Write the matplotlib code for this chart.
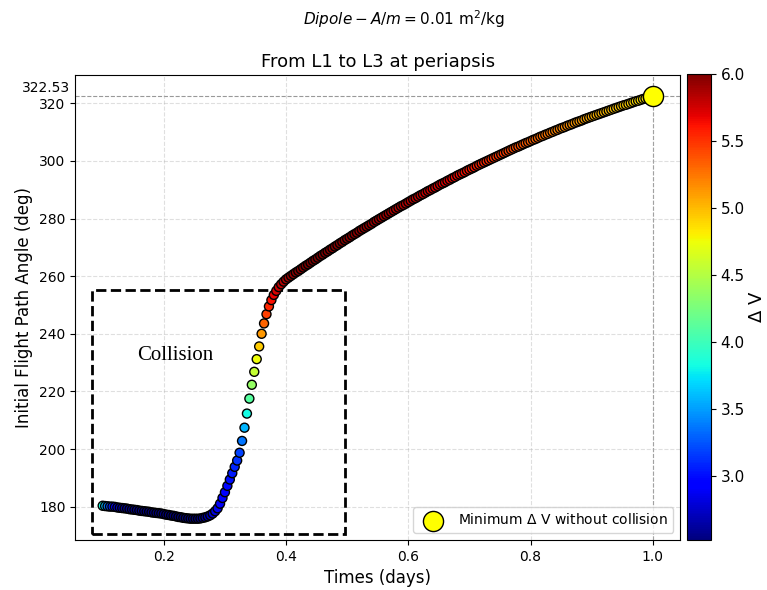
import matplotlib
matplotlib.use('Agg')
import matplotlib.pyplot as plt
from matplotlib.patches import Rectangle

# sample times (days)
times = [
    0.100, 0.104, 0.108, 0.112, 0.116, 0.120, 0.124, 0.128, 0.132, 0.136,
    0.140, 0.144, 0.148, 0.152, 0.156, 0.160, 0.164, 0.168, 0.172, 0.176,
    0.180, 0.184, 0.188, 0.192, 0.196, 0.200, 0.204, 0.208, 0.212, 0.216,
    0.220, 0.224, 0.228, 0.232, 0.236, 0.240, 0.244, 0.248, 0.252, 0.256,
    0.260, 0.264, 0.268, 0.272, 0.276, 0.280, 0.284, 0.288, 0.292, 0.296,
    0.300, 0.304, 0.308, 0.312, 0.316, 0.320, 0.324, 0.328, 0.332, 0.336,
    0.340, 0.344, 0.348, 0.352, 0.356, 0.360, 0.364, 0.368, 0.372, 0.376,
    0.380, 0.384, 0.388, 0.392, 0.396, 0.400, 0.404, 0.408, 0.412, 0.416,
    0.420, 0.424, 0.428, 0.432, 0.436, 0.440, 0.444, 0.448, 0.452, 0.456,
    0.460, 0.464, 0.468, 0.472, 0.476, 0.480, 0.484, 0.488, 0.492, 0.496,
    0.500, 0.504, 0.508, 0.512, 0.516, 0.520, 0.524, 0.528, 0.532, 0.536,
    0.540, 0.544, 0.548, 0.552, 0.556, 0.560, 0.564, 0.568, 0.572, 0.576,
    0.580, 0.584, 0.588, 0.592, 0.596, 0.600, 0.604, 0.608, 0.612, 0.616,
    0.620, 0.624, 0.628, 0.632, 0.636, 0.640, 0.644, 0.648, 0.652, 0.656,
    0.660, 0.664, 0.668, 0.672, 0.676, 0.680, 0.684, 0.688, 0.692, 0.696,
    0.700, 0.704, 0.708, 0.712, 0.716, 0.720, 0.724, 0.728, 0.732, 0.736,
    0.740, 0.744, 0.748, 0.752, 0.756, 0.760, 0.764, 0.768, 0.772, 0.776,
    0.780, 0.784, 0.788, 0.792, 0.796, 0.800, 0.804, 0.808, 0.812, 0.816,
    0.820, 0.824, 0.828, 0.832, 0.836, 0.840, 0.844, 0.848, 0.852, 0.856,
    0.860, 0.864, 0.868, 0.872, 0.876, 0.880, 0.884, 0.888, 0.892, 0.896,
    0.900, 0.904, 0.908, 0.912, 0.916, 0.920, 0.924, 0.928, 0.932, 0.936,
    0.940, 0.944, 0.948, 0.952, 0.956, 0.960, 0.964, 0.968, 0.972, 0.976,
    0.980, 0.984, 0.988, 0.992, 0.996, 1.000,
]

# initial flight path angle (deg)
angle = [
    180.3, 180.2, 180.1, 180.0, 180.0, 179.9, 179.7, 179.6, 179.5, 179.4,
    179.3, 179.1, 179.0, 178.9, 178.8, 178.6, 178.5, 178.4, 178.3, 178.2,
    178.0, 177.9, 177.8, 177.7, 177.6, 177.4, 177.2, 177.1, 176.9, 176.8,
    176.6, 176.4, 176.3, 176.1, 176.0, 175.9, 175.8, 175.8, 175.8, 175.8,
    175.9, 176.1, 176.3, 176.6, 177.0, 177.6, 178.4, 179.4, 181.0, 183.0,
    185.0, 187.2, 189.4, 191.6, 193.8, 196.0, 198.7, 202.8, 207.4, 212.3,
    217.5, 222.3, 226.8, 231.2, 235.6, 240.0, 243.6, 246.8, 249.5, 251.7,
    253.5, 254.9, 256.2, 257.2, 258.1, 258.9, 259.5, 260.1, 260.7, 261.3,
    261.8, 262.4, 263.0, 263.6, 264.1, 264.7, 265.3, 265.8, 266.4, 267.0,
    267.5, 268.1, 268.6, 269.2, 269.7, 270.3, 270.8, 271.4, 271.9, 272.5,
    273.0, 273.5, 274.1, 274.6, 275.1, 275.7, 276.2, 276.7, 277.2, 277.7,
    278.2, 278.8, 279.3, 279.8, 280.3, 280.8, 281.3, 281.8, 282.3, 282.8,
    283.3, 283.8, 284.3, 284.7, 285.2, 285.7, 286.2, 286.7, 287.1, 287.6,
    288.1, 288.5, 289.0, 289.5, 289.9, 290.4, 290.8, 291.3, 291.8, 292.2,
    292.6, 293.1, 293.5, 294.0, 294.4, 294.9, 295.3, 295.7, 296.1, 296.6,
    297.0, 297.4, 297.8, 298.3, 298.7, 299.1, 299.5, 299.9, 300.3, 300.7,
    301.1, 301.5, 301.9, 302.3, 302.7, 303.1, 303.5, 303.9, 304.3, 304.7,
    305.0, 305.4, 305.8, 306.2, 306.5, 306.9, 307.3, 307.6, 308.0, 308.4,
    308.7, 309.1, 309.4, 309.8, 310.1, 310.5, 310.8, 311.2, 311.5, 311.8,
    312.2, 312.5, 312.8, 313.2, 313.5, 313.8, 314.1, 314.5, 314.8, 315.1,
    315.4, 315.7, 316.0, 316.3, 316.6, 316.9, 317.2, 317.5, 317.8, 318.1,
    318.4, 318.7, 319.0, 319.3, 319.5, 319.8, 320.1, 320.4, 320.7, 320.9,
    321.2, 321.5, 321.7, 322.0, 322.2, 322.53,
]

# delta V
delta_v = [
    3.85, 3.60, 3.40, 3.22, 3.08, 2.92, 2.80, 2.72, 2.67, 2.64,
    2.62, 2.61, 2.60, 2.59, 2.58, 2.58, 2.57, 2.57, 2.56, 2.56,
    2.56, 2.55, 2.55, 2.55, 2.54, 2.54, 2.54, 2.53, 2.53, 2.53,
    2.53, 2.53, 2.52, 2.52, 2.52, 2.52, 2.52, 2.52, 2.53, 2.54,
    2.56, 2.59, 2.63, 2.67, 2.71, 2.76, 2.81, 2.86, 2.89, 2.93,
    2.95, 2.98, 3.00, 3.04, 3.08, 3.12, 3.18, 3.35, 3.58, 3.82,
    4.10, 4.36, 4.56, 4.74, 4.93, 5.12, 5.31, 5.45, 5.54, 5.62,
    5.68, 5.73, 5.77, 5.80, 5.83, 5.86, 5.89, 5.91, 5.93, 5.94,
    5.96, 5.97, 5.98, 5.99, 6.00, 6.00, 6.00, 6.00, 6.00, 5.99,
    5.99, 5.98, 5.98, 5.97, 5.97, 5.97, 5.96, 5.96, 5.96, 5.96,
    5.96, 5.96, 5.95, 5.95, 5.94, 5.94, 5.93, 5.93, 5.92, 5.92,
    5.91, 5.91, 5.90, 5.90, 5.89, 5.88, 5.88, 5.87, 5.86, 5.85,
    5.85, 5.84, 5.84, 5.83, 5.82, 5.82, 5.81, 5.80, 5.80, 5.79,
    5.78, 5.77, 5.76, 5.76, 5.75, 5.74, 5.73, 5.72, 5.72, 5.71,
    5.70, 5.69, 5.68, 5.67, 5.66, 5.65, 5.64, 5.63, 5.62, 5.61,
    5.60, 5.59, 5.58, 5.57, 5.56, 5.55, 5.54, 5.53, 5.52, 5.51,
    5.50, 5.49, 5.48, 5.47, 5.46, 5.45, 5.44, 5.42, 5.41, 5.40,
    5.39, 5.38, 5.37, 5.36, 5.34, 5.33, 5.32, 5.31, 5.30, 5.28,
    5.27, 5.26, 5.25, 5.24, 5.22, 5.21, 5.20, 5.19, 5.18, 5.17,
    5.16, 5.15, 5.13, 5.12, 5.11, 5.10, 5.09, 5.08, 5.07, 5.06,
    5.04, 5.03, 5.02, 5.01, 5.00, 5.00, 4.99, 4.98, 4.97, 4.96,
    4.95, 4.94, 4.93, 4.92, 4.91, 4.90, 4.89, 4.88, 4.87, 4.86,
    4.85, 4.84, 4.83, 4.82, 4.81, 4.80,
]

best_time = 1.0
best_angle = 322.53

fig = plt.figure(figsize=(7.67, 5.90), dpi=100)
ax = fig.add_axes([0.098, 0.085, 0.789, 0.788])
cax = fig.add_axes([0.896, 0.085, 0.031, 0.790])

sc = ax.scatter(times, angle, c=delta_v, cmap='jet', s=42,
                edgecolors='black', linewidths=1.0, zorder=3)
ax.scatter(best_time, best_angle, s=210, color='yellow', edgecolors='black',
           linewidths=1.0, zorder=4, label='Minimum $\\Delta$ V without collision')

ax.axhline(best_angle, color='gray', linestyle='--', linewidth=0.8, alpha=0.8, zorder=1)
ax.axvline(best_time, color='gray', linestyle='--', linewidth=0.8, alpha=0.8, zorder=1)
ax.annotate('322.53', xy=(0, best_angle), xycoords=('axes fraction', 'data'),
            xytext=(-4, 1), textcoords='offset points', ha='right', va='bottom',
            fontsize=10)

ax.grid(True, linestyle='--', alpha=0.4)

rect = Rectangle((0.083, 170.6), 0.413, 84.7, fill=False, edgecolor='black',
                 linestyle='--', linewidth=2, zorder=2)
ax.add_patch(rect)
ax.text(0.218, 232.4, 'Collision', family='Liberation Serif', fontsize=15,
        ha='center', va='center')

ax.set_xlabel('Times (days)', fontsize=12)
ax.set_ylabel('Initial Flight Path Angle (deg)', fontsize=12)
ax.set_title('From L1 to L3 at periapsis', fontsize=13)
ax.legend(loc='lower right', fontsize=10)

cb = fig.colorbar(sc, cax=cax)
cb.set_label('$\\Delta$ V', fontsize=13, labelpad=2)
cb.ax.tick_params(labelsize=11)

fig.text(0.527, 0.968, '$Dipole - A/m = 0.01$ m$^2$/kg', ha='center', va='center',
         fontsize=11)

fig.savefig('out.png', dpi=100)
